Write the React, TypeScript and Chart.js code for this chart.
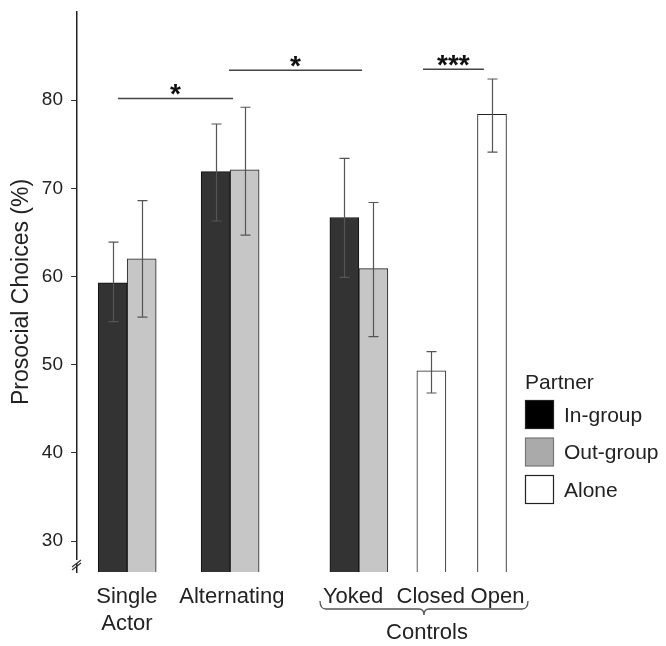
import { useEffect, useRef } from "react";
import { Chart, registerables } from "chart.js";
Chart.register(...registerables);

const FONT = "'Liberation Sans', Arial, Helvetica, sans-serif";

const groupLabels: (string | string[])[] = [["Single", "Actor"], "Alternating", "Yoked", "Closed", "Open"];
const groupCenters = [1.73, 5.28, 9.72, 12.22, 14.31];
const labelPositions = [1.72, 5.34, 9.52, 12.2, 14.5];

const inGroupMeans = [59.3, 71.9, 66.7];
const inGroupLow = [54.9, 66.3, 59.9];
const inGroupHigh = [63.9, 77.3, 73.4];

const outGroupMeans = [62.0, 72.1, 60.9];
const outGroupLow = [55.4, 64.7, 53.2];
const outGroupHigh = [68.6, 79.2, 68.4];

const aloneMeans = [49.3, 78.4];
const aloneLow = [46.8, 74.1];
const aloneHigh = [51.5, 82.4];

const yTicks = [30, 40, 50, 60, 70, 80];

const sigStarts = [1.41, 5.24, 11.93];
const sigEnds = [5.38, 9.83, 14.03];
const sigLevels = [80.2, 83.4, 83.5];
const sigLabels = ["*", "*", "***"];

const controlsRange = [8.38, 15.55];
const controlsLabel = "Controls";

const legendTitle = "Partner";
const seriesNames = ["In-group", "Out-group", "Alone"];
const seriesFills = ["#333333", "#c6c6c6", "#ffffff"];
const seriesBorders = ["#111111", "#222222", "#222222"];
const legendFills = ["#000000", "#aaaaaa", "#ffffff"];
const legendBorders = ["#222222", "#777777", "#222222"];

const annotations = {
  id: "annotations",
  afterDatasetsDraw(chart: any) {
    const ctx = chart.ctx;
    const xs = chart.scales.x;
    const ys = chart.scales.y;
    ctx.save();
    // error bars
    const errs = [
      [inGroupLow, inGroupHigh],
      [outGroupLow, outGroupHigh],
      [aloneLow, aloneHigh],
    ];
    ctx.strokeStyle = "#555";
    ctx.lineWidth = 1.2;
    errs.forEach(([lo, hi], di) => {
      const meta = chart.getDatasetMeta(di);
      meta.data.forEach((el: any, j: number) => {
        const x = Math.round(el.x) + 0.5;
        const y1 = ys.getPixelForValue(lo[j]);
        const y2 = ys.getPixelForValue(hi[j]);
        ctx.beginPath();
        ctx.moveTo(x, y1);
        ctx.lineTo(x, y2);
        ctx.moveTo(x - 5, y1);
        ctx.lineTo(x + 5, y1);
        ctx.moveTo(x - 5, y2);
        ctx.lineTo(x + 5, y2);
        ctx.stroke();
      });
    });
    // significance lines
    ctx.strokeStyle = "#444";
    ctx.lineWidth = 1.6;
    ctx.fillStyle = "#111";
    ctx.font = `bold 28px ${FONT}`;
    ctx.textAlign = "center";
    ctx.textBaseline = "alphabetic";
    sigLevels.forEach((lv, i) => {
      const x1 = xs.getPixelForValue(sigStarts[i]);
      const x2 = xs.getPixelForValue(sigEnds[i]);
      const y = ys.getPixelForValue(lv);
      ctx.beginPath();
      ctx.moveTo(x1, y);
      ctx.lineTo(x2, y);
      ctx.stroke();
      ctx.fillText(sigLabels[i], (x1 + x2) / 2, y + 5);
    });
    // controls brace
    const bx1 = xs.getPixelForValue(controlsRange[0]);
    const bx2 = xs.getPixelForValue(controlsRange[1]);
    const bxc = (bx1 + bx2) / 2;
    const top = chart.chartArea.bottom + 29;
    const mid = top + 8;
    ctx.strokeStyle = "#555";
    ctx.lineWidth = 1.3;
    ctx.beginPath();
    ctx.moveTo(bx1, top);
    ctx.quadraticCurveTo(bx1, mid, bx1 + 6, mid);
    ctx.lineTo(bxc - 5, mid);
    ctx.quadraticCurveTo(bxc, mid, bxc, mid + 6);
    ctx.quadraticCurveTo(bxc, mid, bxc + 5, mid);
    ctx.lineTo(bx2 - 6, mid);
    ctx.quadraticCurveTo(bx2, mid, bx2, top);
    ctx.stroke();
    ctx.fillStyle = "#222";
    ctx.font = `22px ${FONT}`;
    ctx.textBaseline = "middle";
    ctx.fillText(controlsLabel, bxc + 3, chart.chartArea.bottom + 61);
    // axis break
    const ax = chart.chartArea.left;
    const ab = chart.chartArea.bottom;
    ctx.fillStyle = "#fff";
    ctx.fillRect(ax - 2, ab - 12, 4, 3);
    ctx.strokeStyle = "#333";
    ctx.lineWidth = 1.2;
    ctx.beginPath();
    ctx.moveTo(ax - 5, ab - 5);
    ctx.lineTo(ax + 4, ab - 12);
    ctx.moveTo(ax - 5, ab - 2);
    ctx.lineTo(ax + 4, ab - 9);
    ctx.stroke();
    ctx.restore();
  },
  afterDraw(chart: any) {
    const ctx = chart.ctx;
    ctx.save();
    ctx.fillStyle = "#222";
    ctx.font = `21px ${FONT}`;
    ctx.textAlign = "left";
    ctx.textBaseline = "middle";
    const lx = 525;
    ctx.fillText(legendTitle, lx, 383);
    seriesNames.forEach((n, i) => {
      const cy = 415 + i * 37.5;
      ctx.fillStyle = legendFills[i];
      ctx.fillRect(lx + 0.5, cy - 14.5, 28, 28);
      ctx.strokeStyle = legendBorders[i];
      ctx.lineWidth = 1.2;
      ctx.strokeRect(lx + 0.5, cy - 14.5, 28, 28);
      ctx.fillStyle = "#222";
      ctx.fillText(n, lx + 39, cy + 1);
    });
    ctx.restore();
  },
};

export default function App() {
  const ref = useRef<HTMLCanvasElement | null>(null);
  useEffect(() => {
    document.body.style.margin = "0";
    document.body.style.overflow = "hidden";
    if (!ref.current) return;
    const chart = new Chart(ref.current, {
      type: "bar",
      data: {
        datasets: [
          {
            label: seriesNames[0],
            data: inGroupMeans.map((v, i) => ({ x: groupCenters[i] - 0.5, y: v })),
            backgroundColor: seriesFills[0],
            borderColor: seriesBorders[0],
          },
          {
            label: seriesNames[1],
            data: outGroupMeans.map((v, i) => ({ x: groupCenters[i] + 0.5, y: v })),
            backgroundColor: seriesFills[1],
            borderColor: seriesBorders[1],
          },
          {
            label: seriesNames[2],
            data: aloneMeans.map((v, i) => ({ x: groupCenters[3 + i], y: v })),
            backgroundColor: seriesFills[2],
            borderColor: seriesBorders[2],
          },
        ],
      },
      options: {
        responsive: false,
        animation: false,
        events: [],
        layout: { padding: { top: 12, right: 125, left: 0, bottom: 0 } },
        datasets: {
          bar: {
            grouped: false,
            barThickness: 29,
            borderWidth: 1,
            borderSkipped: false,
          } as any,
        },
        plugins: {
          legend: { display: false },
          tooltip: { enabled: false },
        },
        scales: {
          x: {
            type: "linear",
            min: 0,
            max: 16,
            offset: false,
            grid: { display: false, drawTicks: false },
            border: { display: false },
            afterBuildTicks: (axis: any) => {
              axis.ticks = labelPositions.map((v) => ({ value: v }));
            },
            afterFit: (axis: any) => {
              axis.height = 74;
              axis.paddingLeft = 0;
              axis.paddingRight = 0;
            },
            ticks: {
              autoSkip: false,
              maxRotation: 0,
              padding: 12,
              color: "#222",
              font: { family: FONT, size: 22 },
              callback: (_v: any, i: number) => groupLabels[i],
            },
          },
          y: {
            type: "linear",
            min: 26.5,
            max: 90,
            afterBuildTicks: (axis: any) => {
              axis.ticks = yTicks.map((v) => ({ value: v }));
            },
            afterFit: (axis: any) => {
              axis.width = 77;
              axis.paddingTop = 0;
              axis.paddingBottom = 0;
            },
            grid: { drawOnChartArea: false, drawTicks: true, tickLength: 6, color: "#333" },
            border: { display: true, color: "#222", width: 1.5 },
            ticks: {
              padding: 8,
              color: "#222",
              font: { family: FONT, size: 19 },
            },
            title: {
              display: true,
              text: "Prosocial Choices (%)",
              color: "#222",
              font: { family: FONT, size: 23 },
              padding: { top: 8, bottom: 0 },
            },
          },
        },
      },
      plugins: [annotations],
    });
    return () => chart.destroy();
  }, []);
  return <canvas ref={ref} width={666} height={646} style={{ display: "block" }} />;
}
